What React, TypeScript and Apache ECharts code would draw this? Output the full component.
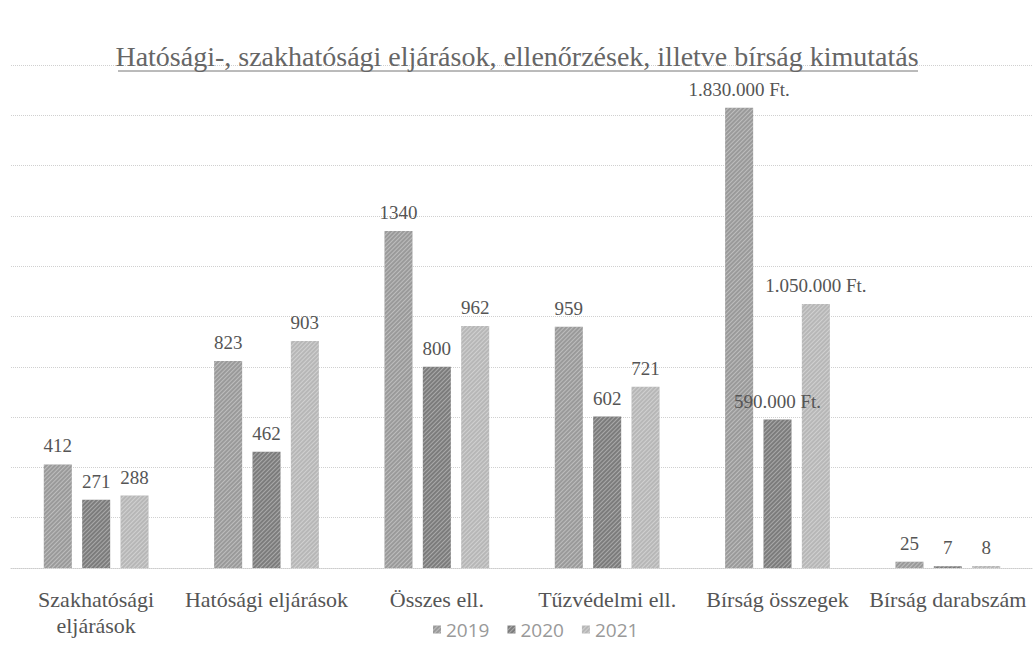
import React, { useEffect, useRef } from "react";
import * as echarts from "echarts";

const categories = [
  "Szakhatósági\neljárások",
  "Hatósági eljárások",
  "Összes ell.",
  "Tűzvédelmi ell.",
  "Bírság összegek",
  "Bírság darabszám",
];
const years = ["2019", "2020", "2021"];
// Bírság összegek values are in thousand Ft
const v2019 = [412, 823, 1340, 959, 1830, 25];
const v2020 = [271, 462, 800, 602, 590, 7];
const v2021 = [288, 903, 962, 721, 1050, 8];
const FT_INDEX = 4;
const FT_UNIT = 1000;
const colors = ["#9a9a9a", "#7c7c7c", "#b7b7b7"];

const fmtFt = (v: number) =>
  String(Math.round(v * FT_UNIT)).replace(/\B(?=(\d{3})+(?!\d))/g, ".") + " Ft.";

export default function App() {
  const ref = useRef<HTMLDivElement>(null);
  useEffect(() => {
    if (!ref.current) return;
    const chart = echarts.init(ref.current, undefined, { renderer: "svg" });
    const serif = "Liberation Serif";
    const series = [v2019, v2020, v2021].map((d, i) => ({
      name: years[i],
      type: "bar",
      data: d,
      barWidth: 28,
      barGap: "37%",
      itemStyle: {
        color: colors[i],
        decal: {
          symbol: "rect",
          symbolSize: 1,
          dashArrayX: [1, 0],
          dashArrayY: [1, 2],
          rotation: -Math.PI / 4,
          color: "rgba(255,255,255,0.35)",
        },
      },
      label: {
        show: true,
        position: "top",
        distance: 9,
        fontFamily: serif,
        fontSize: 19,
        color: "#555",
        formatter: (p: any) => (p.dataIndex === FT_INDEX ? fmtFt(p.value) : String(p.value)),
      },
    }));
    chart.setOption({
      animation: false,
      title: {
        text: "Hatósági-, szakhatósági eljárások, ellenőrzések, illetve bírság kimutatás",
        left: "center",
        top: 37,
        textStyle: { fontFamily: serif, fontSize: 28, fontWeight: "normal", color: "#666" },
      },
      graphic: [
        { type: "line", shape: { x1: 118, y1: 71, x2: 918, y2: 71 }, style: { stroke: "#777", lineWidth: 1 } },
      ],
      legend: {
        data: years,
        bottom: 14,
        left: 428,
        itemWidth: 8,
        itemHeight: 8,
        itemGap: 18,
        icon: "rect",
        textStyle: { fontFamily: "Open Sans", fontSize: 19, color: "#999" },
      },
      grid: { left: 11, right: 1, top: 65, bottom: 90, containLabel: false },
      xAxis: {
        type: "category",
        data: categories,
        axisTick: { show: false },
        axisLine: { lineStyle: { color: "#ccc", type: "dotted" } },
        axisLabel: { fontFamily: serif, fontSize: 22, color: "#555", margin: 18, lineHeight: 26, interval: 0 },
      },
      yAxis: {
        type: "value",
        min: 0,
        max: 2000,
        interval: 200,
        axisLabel: { show: false },
        axisLine: { show: false },
        axisTick: { show: false },
        splitLine: { lineStyle: { color: "#d0d0d0", type: "dotted" } },
      },
      series,
    });
    return () => chart.dispose();
  }, []);
  return <div ref={ref} style={{ width: 1034, height: 658, position: "absolute", left: 0, top: 0 }} />;
}
